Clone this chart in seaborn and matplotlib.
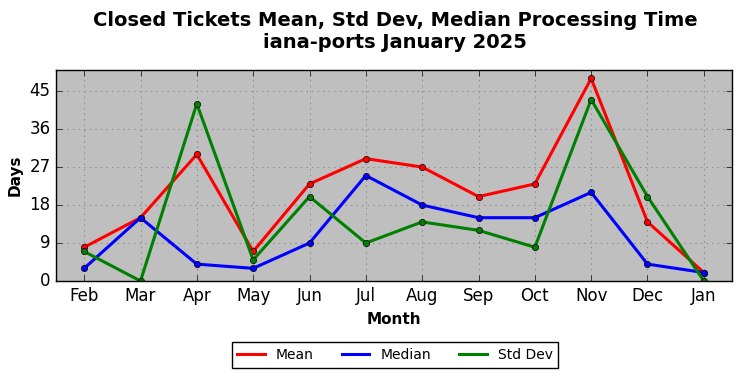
import matplotlib
matplotlib.use("Agg")
import matplotlib.pyplot as plt
import pandas as pd
import seaborn as sns

months = ["Feb", "Mar", "Apr", "May", "Jun", "Jul", "Aug", "Sep", "Oct", "Nov", "Dec", "Jan"]
mean_days = [8, 15, 30, 7, 23, 29, 27, 20, 23, 48, 14, 2]
median_days = [3, 15, 4, 3, 9, 25, 18, 15, 15, 21, 4, 2]
std_days = [7, 0, 42, 5, 20, 9, 14, 12, 8, 43, 20, 0]

plt.style.use("classic")

# long-form frame for seaborn
records = []
for name, vals in [("Mean", mean_days), ("Median", median_days), ("Std Dev", std_days)]:
    for i, v in enumerate(vals):
        records.append({"pos": i, "value": v, "stat": name})
df = pd.DataFrame.from_records(records)

fig = plt.figure(figsize=(7.42, 3.78), dpi=100)
ax = fig.add_axes([56 / 742, 1 - 281 / 378, 676 / 742, 211 / 378])
ax.set_facecolor("#bfbfbf")

sns.lineplot(data=df, x="pos", y="value", hue="stat",
             palette={"Mean": "red", "Median": "blue", "Std Dev": "green"},
             marker="o", markersize=4.5, markeredgecolor="black", markeredgewidth=0.5,
             linewidth=2.2, ax=ax, legend=False)

ax.set_xlim(-0.5, 11.5)
ax.set_ylim(0, 50)
ax.set_xticks(range(len(months)))
ax.set_xticklabels(months, fontsize=12)
ax.set_yticks([0, 9, 18, 27, 36, 45])
ax.tick_params(axis="y", labelsize=12)
ax.grid(True, linestyle=":", color="#8a8a8a", linewidth=0.8)
ax.set_axisbelow(True)
ax.set_xlabel("Month", fontsize=11, fontweight="bold")
ax.set_ylabel("Days", fontsize=11, fontweight="bold")

# title centred over the axes, not the figure
fig.suptitle("Closed Tickets Mean, Std Dev, Median Processing Time\niana-ports January 2025",
             fontsize=14, fontweight="bold", x=395 / 742, y=0.972)

handles = [plt.Line2D([], [], color=c, linewidth=2.2) for c in ["red", "blue", "green"]]
fig.legend(handles, ["Mean", "Median", "Std Dev"], loc="center", ncol=3,
           bbox_to_anchor=(395 / 742, 1 - 355 / 378), fontsize=10,
           frameon=True, fancybox=False, columnspacing=2.0, handlelength=2.0,
           numpoints=1)

fig.savefig("out.png", dpi=100)
